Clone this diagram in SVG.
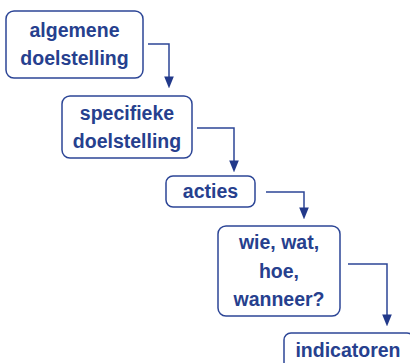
<svg xmlns="http://www.w3.org/2000/svg" width="410" height="363" viewBox="0 0 410 363">
<style>
.box{fill:#fff;stroke:#2c4596;stroke-width:1.5}
.t{font-family:"Liberation Sans",Arial,sans-serif;font-weight:bold;font-size:19.5px;fill:#26408e;text-anchor:middle}
.c{fill:none;stroke:#2c4596;stroke-width:1.5}
</style>
<defs>
<marker id="ah" markerUnits="userSpaceOnUse" markerWidth="12" markerHeight="15" refX="12" refY="6" orient="auto" viewBox="0 0 15 12">
<path d="M0,0 L15,6 L0,12 Z" fill="#22398a"/>
</marker>
</defs>
<rect width="410" height="363" fill="#fff"/>
<g id="connectors">
<path class="c" d="M148,44 H169 V86" marker-end="url(#ah)"/>
<path class="c" d="M197,128 H234 V170" marker-end="url(#ah)"/>
<path class="c" d="M266,192 H304 V217" marker-end="url(#ah)"/>
<path class="c" d="M348,264 H387 V324" marker-end="url(#ah)"/>
</g>
<g id="n1">
<rect class="box" x="6" y="11" width="137" height="67" rx="8"/>
<text class="t" x="74.5" y="37">algemene</text>
<text class="t" x="74.5" y="65">doelstelling</text>
</g>
<g id="n2">
<rect class="box" x="62" y="96" width="130" height="62" rx="8"/>
<text class="t" x="127" y="120">specifieke</text>
<text class="t" x="127" y="148">doelstelling</text>
</g>
<g id="n3">
<rect class="box" x="166" y="176" width="89" height="31" rx="7"/>
<text class="t" x="210.5" y="198">acties</text>
</g>
<g id="n4">
<rect class="box" x="218" y="226" width="122" height="90" rx="8"/>
<text class="t" x="279" y="249">wie, wat,</text>
<text class="t" x="279" y="277.5">hoe,</text>
<text class="t" x="279" y="306">wanneer?</text>
</g>
<g id="n5">
<rect class="box" x="284" y="333" width="130" height="40" rx="7"/>
<text class="t" x="348" y="357">indicatoren</text>
</g>
</svg>
